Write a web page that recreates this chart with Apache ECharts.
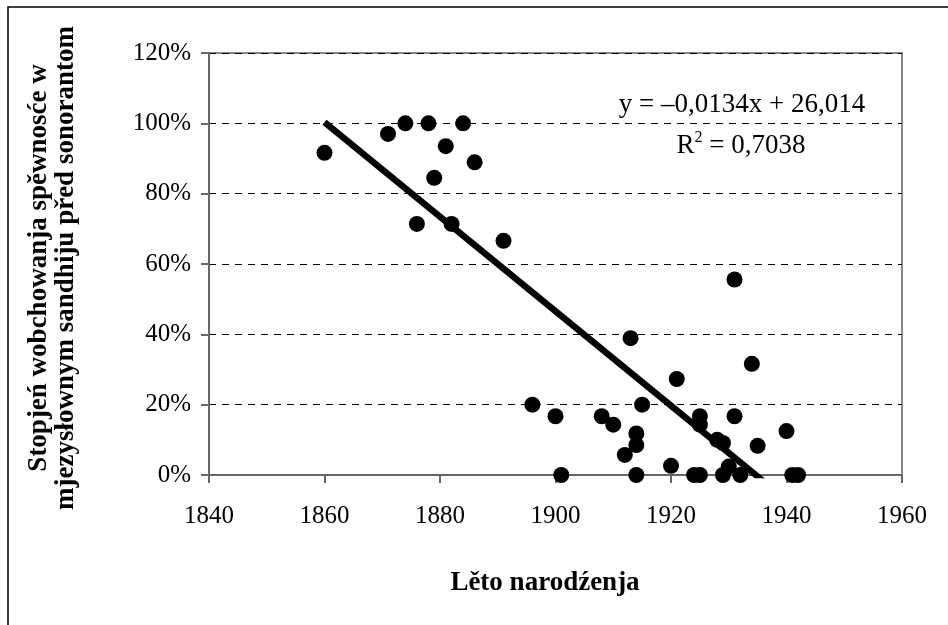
<!DOCTYPE html>
<html>
<head>
<meta charset="utf-8">
<script src="https://cdn.jsdelivr.net/npm/echarts@6/dist/echarts.min.js"></script>
<style>html,body{margin:0;padding:0;background:#fff}#c{width:948px;height:625px}</style>
</head>
<body>
<div id="c"></div>
<script>
// Birth years (x) and share of preserved voicing in % (y)
const birthYears = [1860,1871,1874,1878,1884,1881,1886,1879,1876,1882,1891,
  1931,1913,1934,1921,1896,1915,1900,1908,1910,1925,1925,1931,1914,1914,1912,
  1928,1929,1940,1935,1920,1930,
  1901,1914,1924,1925,1929,1932,1941,1942];
const preservation = [91.6,97.0,100,100,100,93.5,88.9,84.5,71.4,71.4,66.6,
  55.6,38.9,31.6,27.3,20.0,20.0,16.7,16.7,14.3,16.7,14.3,16.7,11.8,8.5,5.7,
  10.0,9.1,12.5,8.3,2.6,2.4,
  0,0,0,0,0,0,0,0];
const xTicks = [1840,1860,1880,1900,1920,1940,1960];
const yTicks = [0,20,40,60,80,100,120];
const equationText = 'y = \u20130,0134x + 26,014';
const r2Value = '0,7038';
const xTitle = 'L\u011bto narod\u017aenja';
const yTitleLines = ['Stopje\u0144 wobchowanja sp\u011bwnos\u0107e w', 'mjezys\u0142ownym sandhiju p\u0159ed sonorantom'];

// least-squares trendline from the data
const n = birthYears.length;
let sx=0, sy=0, sxx=0, sxy=0;
for (let i=0;i<n;i++){ sx+=birthYears[i]; sy+=preservation[i]; sxx+=birthYears[i]*birthYears[i]; sxy+=birthYears[i]*preservation[i]; }
const slope = (n*sxy - sx*sy)/(n*sxx - sx*sx);
const intercept = (sy - slope*sx)/n;
const xMin = Math.min(...birthYears), xMax = Math.max(...birthYears);
const trend = [[xMin, intercept + slope*xMin], [xMax, intercept + slope*xMax]];

const FONT = '"Liberation Serif", "Times New Roman", serif';
const chart = echarts.init(document.getElementById('c'), null, {renderer:'canvas'});
chart.setOption({
  backgroundColor: '#fff',
  animation: false,
  grid: { left: 209, right: 46, top: 53, bottom: 150, show: true, borderColor: '#888', borderWidth: 2, backgroundColor: 'transparent' },
  xAxis: {
    type: 'value', min: xTicks[0], max: xTicks[xTicks.length-1], interval: 20,
    axisLine: { show: true, onZero: false, lineStyle: { color: '#666', width: 2 } },
    axisTick: { show: true, inside: false, length: 8, lineStyle: { color: '#666', width: 2 } },
    axisLabel: { color: '#000', fontFamily: FONT, fontSize: 25, margin: 29, formatter: v => String(v) },
    splitLine: { show: false }
  },
  yAxis: {
    type: 'value', min: yTicks[0], max: yTicks[yTicks.length-1], interval: 20,
    axisLine: { show: true, onZero: false, lineStyle: { color: '#666', width: 2 } },
    axisTick: { show: true, inside: false, length: 8, lineStyle: { color: '#666', width: 2 } },
    axisLabel: { color: '#000', fontFamily: FONT, fontSize: 25, margin: 18, formatter: v => v + '%' },
    splitLine: { show: true, lineStyle: { color: '#000', width: 1, type: [7,6] } }
  },
  series: [
    { type: 'line', data: trend, symbol: 'none', clip: true, silent: true,
      lineStyle: { color: '#000', width: 6.5 }, z: 3 },
    { type: 'scatter', data: birthYears.map((x,i)=>[x, preservation[i]]),
      symbol: 'circle', symbolSize: 16, itemStyle: { color: '#000', opacity: 1 }, z: 4 }
  ],
  graphic: [
    { type: 'rect', shape: { x: 8, y: 7, width: 980, height: 700 }, style: { fill: 'none', stroke: '#000', lineWidth: 1.5 }, silent: true },
    { type: 'text', x: 742, y: 105, style: { text: equationText, font: '27px ' + FONT, fill: '#000', textAlign: 'center', textVerticalAlign: 'middle' } },
    { type: 'text', x: 741, y: 146, style: { text: '{n|R}{s|2}{n| = ' + r2Value + '}', textAlign: 'center', textVerticalAlign: 'middle',
        rich: { n: { fontFamily: FONT, fontSize: 27, color: '#000' }, s: { fontFamily: FONT, fontSize: 16, color: '#000', verticalAlign: 'top', padding: [0,0,16,0] } } } },
    { type: 'text', x: 545, y: 583, style: { text: xTitle, font: 'bold 27px ' + FONT, fill: '#000', textAlign: 'center', textVerticalAlign: 'middle' } },
    { type: 'text', x: 39, y: 268, rotation: Math.PI/2, style: { text: yTitleLines[0], font: 'bold 27px ' + FONT, fill: '#000', textAlign: 'center', textVerticalAlign: 'middle' } },
    { type: 'text', x: 66, y: 268, rotation: Math.PI/2, style: { text: yTitleLines[1], font: 'bold 27px ' + FONT, fill: '#000', textAlign: 'center', textVerticalAlign: 'middle' } }
  ]
});
</script>
</body>
</html>
